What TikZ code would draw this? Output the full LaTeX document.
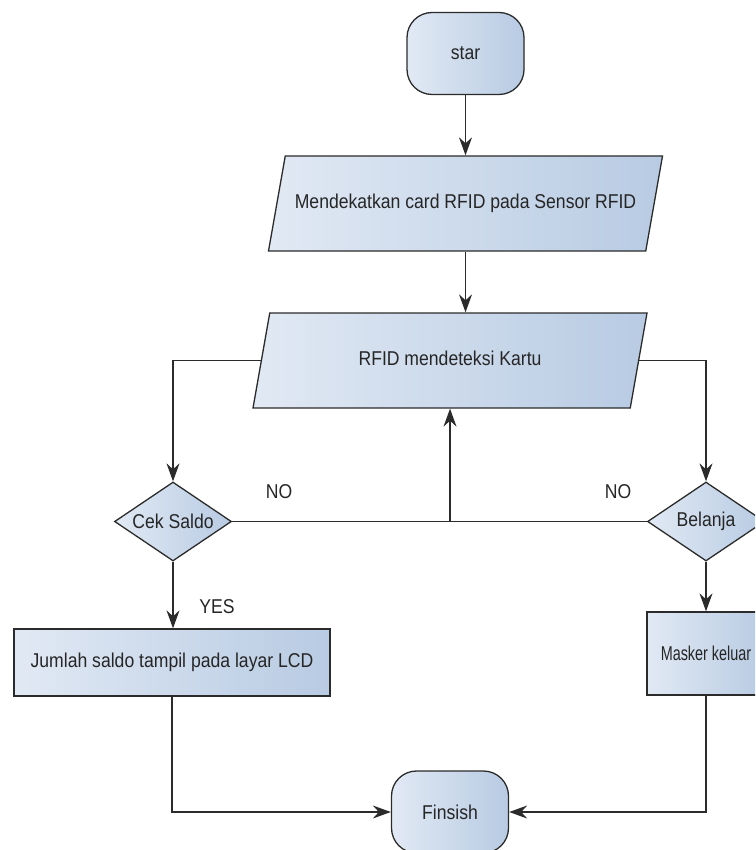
\documentclass[tikz,border=0pt]{standalone}
\usepackage{fontspec}
\setmainfont{Liberation Sans}[FakeStretch=0.88]
\newfontfamily\narrowfont{Liberation Sans}[FakeStretch=0.72]
\usetikzlibrary{shapes.geometric,arrows.meta}
\definecolor{boxleft}{HTML}{E1E9F4}
\definecolor{boxright}{HTML}{B8CBE3}
\definecolor{edge}{HTML}{2B2B2B}
\definecolor{ink}{HTML}{262626}

\begin{document}
\begin{tikzpicture}[x=1pt,y=-1pt,
  font=\fontsize{20}{22}\selectfont,
  base/.style={draw=edge,line width=1.3pt,left color=boxleft,right color=boxright,text=ink,inner sep=0pt},
  terminal/.style={base,rectangle,rounded corners=25pt,minimum width=117pt,minimum height=82pt},
  io/.style={base,trapezium,trapezium left angle=80,trapezium right angle=100,trapezium stretches body=true,
    text height=14pt,text depth=4pt,inner xsep=0pt,inner ysep=38.5pt,minimum width=394pt},
  process/.style={base,rectangle,minimum height=67pt},
  decision/.style={base,diamond,aspect=1.5,minimum width=117pt,minimum height=79pt},
  line/.style={draw=edge,line width=1.3pt},
  arr/.style={line,-{Stealth[length=18pt,width=13pt,inset=6pt]}},
  lbl/.style={inner sep=0pt,text=ink}]
  \useasboundingbox (0,0) rectangle (755,850);
  \clip (0,0) rectangle (755,850);

  \node[terminal] (start) at (465.5,53.5) {star};
  \node[io] (dekat) at (465.5,203.5) {Mendekatkan card RFID pada Sensor RFID};
  \node[io] (deteksi) at (450,360.5) {RFID mendeteksi Kartu};
  \node[decision] (cek) at (173,521.5) {Cek Saldo};
  \node[decision] (belanja) at (706,521.5) {Belanja};
  \node[process,minimum width=316pt] (jumlah) at (172,662.5) {Jumlah saldo tampil pada layar LCD};
  \node[process,minimum width=118pt,minimum height=83pt] (masker) at (706,653.5) {\narrowfont Masker keluar\hspace{8pt}};
  \node[terminal] (finish) at (450,812) {Finsish};

  \node[lbl] (no1) at (279,492) {NO};
  \node[lbl] (no2) at (618,492) {NO};
  \node[lbl] (yes) at (217,607) {YES};

  \draw[arr] (start) -- (dekat);
  \draw[arr] (dekat.south) -- (dekat.south |- deteksi.north);
  \draw[arr] (deteksi.west) -| (cek.north);
  \draw[arr] (deteksi.east) -| (belanja.north);
  \draw[line] (cek.east) -- (belanja.west);
  \draw[arr] (cek.east -| deteksi.south) -- (deteksi.south);
  \draw[arr] (cek.south) -- (cek.south |- jumlah.north);
  \draw[arr] (belanja) -- (masker);
  \draw[arr] (jumlah.south) |- (finish.west);
  \draw[arr] (masker.south) |- (finish.east);
\end{tikzpicture}
\end{document}
